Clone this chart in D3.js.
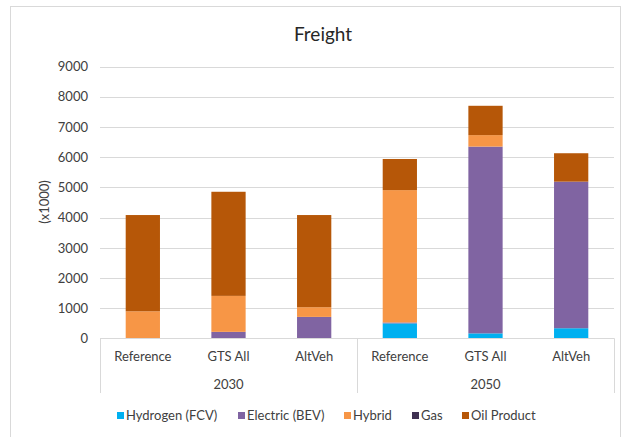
<!DOCTYPE html>
<html><head><meta charset="utf-8">
<script src="https://cdn.jsdelivr.net/npm/d3@7"></script>
<style>body{margin:0;background:#fff;}svg{display:block;font-family:Lato,"Liberation Sans",sans-serif;}</style>
</head><body><svg id="c" width="633" height="437"></svg>
<script>
const categories = ["Reference","GTS All","AltVeh","Reference","GTS All","AltVeh"];
const years = ["2030","2050"];
const seriesNames = ["Hydrogen (FCV)","Electric (BEV)","Hybrid","Gas","Oil Product"];
const hydrogen = [0,0,0,500,170,340];
const electric = [0,220,715,30,6180,4850];
const hybrid = [900,1190,320,4380,380,0];
const gas = [0,0,0,0,0,0];
const oil = [3185,3445,3050,1030,970,940];
const yTicks = [0,1000,2000,3000,4000,5000,6000,7000,8000,9000];
const colors = ["#00B0F0","#8064A2","#F79646","#403152","#B65708"];

const svg = d3.select("#c");
const textCol = "#404040";
svg.append("rect").attr("x",10.5).attr("y",6.5).attr("width",610).attr("height",440)
  .attr("fill","#fff").attr("stroke","#d9d9d9");

const idx = categories.map((d,i)=>i);
const x = d3.scaleBand().domain(idx).range([100,614]).paddingInner(0.6).paddingOuter(0.3);
const y = d3.scaleLinear().domain([0,9000]).range([338.5,66.5]);

// gridlines
svg.append("g").selectAll("line").data(yTicks.filter(t=>t>0)).join("line")
  .attr("x1",100).attr("x2",614).attr("y1",d=>Math.round(y(d))+0.5).attr("y2",d=>Math.round(y(d))+0.5)
  .attr("stroke","#d9d9d9").attr("stroke-width",1);

// y axis labels
const yAxis = d3.axisLeft(y).tickValues(yTicks).tickSize(0).tickPadding(0).tickFormat(d3.format("d"));
const yg = svg.append("g").attr("transform","translate(88,0)").call(yAxis);
yg.select(".domain").remove();
yg.selectAll("text").attr("fill",textCol).style("font-size","13px").style("font-family","Lato,'Liberation Sans',sans-serif");

svg.append("text").attr("transform","translate(49,202) rotate(-90)").attr("text-anchor","middle")
  .attr("fill",textCol).style("font-size","13px").text("(x1000)");

// stacked bars
const rows = idx.map(i=>({i, "Hydrogen (FCV)":hydrogen[i], "Electric (BEV)":electric[i], "Hybrid":hybrid[i], "Gas":gas[i], "Oil Product":oil[i]}));
const stack = d3.stack().keys(seriesNames)(rows);
svg.append("g").selectAll("g").data(stack).join("g").attr("fill",(d,k)=>colors[k])
  .selectAll("rect").data(d=>d).join("rect")
  .attr("x",d=>x(d.data.i)).attr("width",x.bandwidth())
  .attr("y",d=>y(d[1])).attr("height",d=>y(d[0])-y(d[1]));

// category axis box
const ax = svg.append("g").attr("stroke","#d9d9d9").attr("stroke-width",1);
ax.append("line").attr("x1",100).attr("x2",614.5).attr("y1",338.5).attr("y2",338.5);
[100.5,357.5,614.5].forEach(px=>{
  ax.append("line").attr("x1",px).attr("x2",px).attr("y1",338.5).attr("y2",393);
});
svg.append("g").selectAll("text").data(idx).join("text")
  .attr("x",i=>x(i)+x.bandwidth()/2).attr("y",361).attr("text-anchor","middle")
  .attr("fill",textCol).style("font-size","13px").text(i=>categories[i]);
svg.append("g").selectAll("text").data(years).join("text")
  .attr("x",(d,k)=>(x(k*3)+x(k*3+2)+x.bandwidth())/2).attr("y",389).attr("text-anchor","middle")
  .attr("fill",textCol).style("font-size","13px").text(d=>d);

// title
svg.append("text").attr("x",323).attr("y",41).attr("text-anchor","middle")
  .attr("fill","#262626").style("font-size","19px").text("Freight");

// legend
const legX = [117,238,344,412,462];
const lg = svg.append("g");
seriesNames.forEach((n,k)=>{
  lg.append("rect").attr("x",legX[k]).attr("y",412).attr("width",7).attr("height",7).attr("fill",colors[k]);
  lg.append("text").attr("x",legX[k]+9).attr("y",420).attr("fill",textCol).style("font-size","13px").text(n);
});
</script></body></html>
